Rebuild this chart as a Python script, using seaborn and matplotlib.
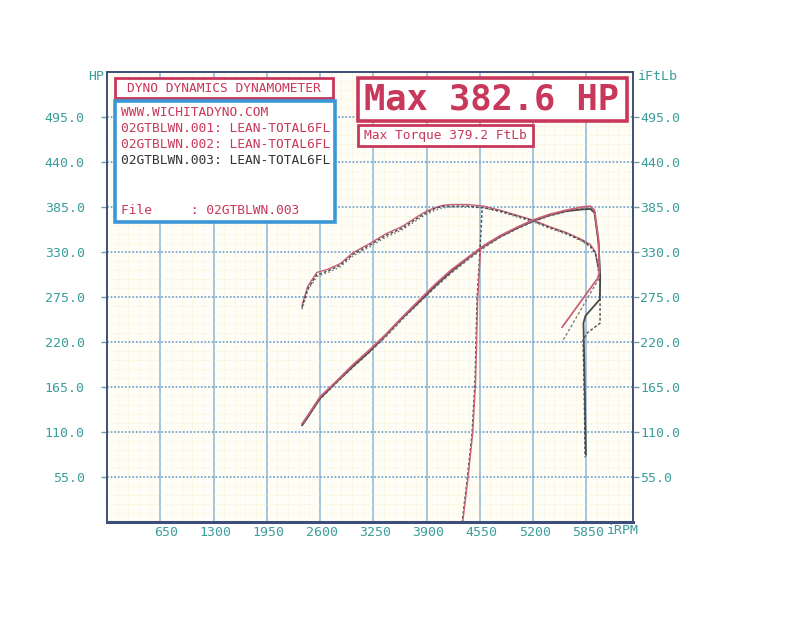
import matplotlib
matplotlib.use("Agg")
import matplotlib.pyplot as plt
from matplotlib.patches import Rectangle
from matplotlib.ticker import MultipleLocator
import matplotlib.transforms as mtransforms
import seaborn as sns

# ---------------- data ----------------
X_TICKS = [650, 1300, 1950, 2600, 3250, 3900, 4550, 5200, 5850]
X_TICK_LABELS = ["650", "1300", "1950", "2600", "3250", "3900", "4550", "5200", "5850"]
Y_TICKS = [55, 110, 165, 220, 275, 330, 385, 440, 495]
Y_TICK_LABELS = ["55.0", "110.0", "165.0", "220.0", "275.0", "330.0", "385.0", "440.0", "495.0"]

# Power (HP) traces, incl. run-down tails
PWR_RPM_001 = [2380, 2450, 2600, 2800, 3000, 3200, 3400, 3600, 3800, 4000, 4200, 4400, 4600,
               4800, 5000, 5200, 5400, 5600, 5800, 5900, 5950, 6000, 6010, 5990, 5554]
PWR_001 = [120, 130, 153, 172, 192, 210, 229, 250, 270, 290, 308, 323, 338,
           350, 360, 369, 376, 381, 385, 386, 381, 345, 305, 298, 238]
PWR_RPM_002 = [2380, 2450, 2600, 2800, 3000, 3200, 3400, 3600, 3800, 4000, 4200, 4400, 4600,
               4800, 5000, 5200, 5400, 5600, 5800, 5900, 5950, 6000, 6015, 5995, 5554]
PWR_002 = [119, 129, 150, 170, 189, 207, 226, 247, 267, 286, 304, 320, 335,
           348, 358, 367, 374, 379, 383, 384, 380, 342, 302, 296, 220]
PWR_RPM_003 = [2380, 2450, 2600, 2800, 3000, 3200, 3400, 3600, 3800, 4000, 4200, 4400, 4600,
               4800, 5000, 5200, 5400, 5600, 5800, 5900, 5950, 6000, 6020, 6015, 5840, 5815,
               5825, 5835, 5845]
PWR_003 = [118, 128, 151, 171, 190, 208, 228, 249, 268, 288, 306, 322, 337,
           349, 359, 368, 375, 380, 382, 382.6, 378, 340, 300, 272, 252, 243,
           200, 140, 82]

# Torque (FtLb) traces
TRQ_RPM = [2380, 2450, 2560, 2700, 2850, 3000, 3200, 3400, 3600, 3800, 3900, 4000, 4100,
           4200, 4400, 4600, 4800, 5000, 5200, 5400, 5600, 5800, 5900, 5960, 6010]
TRQ_001 = [265, 288, 305, 309, 316, 329, 340, 352, 361, 374, 380, 384, 387,
           388, 388, 386, 381, 375, 369, 361, 354, 345, 339, 330, 305]
TRQ_002 = [260, 283, 300, 305, 312, 325, 336, 348, 357, 370, 376, 381, 384,
           385, 385, 384, 379, 373, 367, 359, 352, 343, 336, 328, 300]
TRQ_003 = [262, 285, 302, 307, 314, 327, 338, 350, 359, 372, 378, 383, 386,
           386, 386, 384, 380, 374, 368, 360, 353, 344, 337, 329, 303]
TRQ_TAIL_RPM_003 = [6010, 6018, 6018, 5860, 5810, 5820, 5830, 5835]
TRQ_TAIL_003 = [303, 290, 243, 231, 222, 180, 120, 79]

# Start-of-run drop lines
DROP_TRQ_RPM = [4578, 4553, 4516, 4492, 4456, 4395, 4334]
DROP_TRQ = [381, 334, 271, 174, 109, 51, 0]
DROP_PWR_RPM = [4560, 4524, 4500, 4464, 4403, 4342]
DROP_PWR = [334, 271, 174, 109, 51, 0]

RUN_LABELS = ["02GTBLWN.001: LEAN-TOTAL6FL", "02GTBLWN.002: LEAN-TOTAL6FL",
              "02GTBLWN.003: LEAN-TOTAL6FL"]

# ---------------- style ----------------
sns.set_theme(style="white")
plt.rcParams["font.family"] = ["DejaVu Sans Mono", "DejaVu Sans"]

W, H = 799, 625
CRIMSON = "#c8385a"
TEAL = "#3a9e9a"
PINK = "#c8607a"
DARK = "#4a4a4a"
GRAY = "#808080"
BLUE = "#3a98d8"
FRAME = "#3d4f78"

fig = plt.figure(figsize=(W / 100, H / 100), dpi=100)
fig.patch.set_facecolor("white")
ax = fig.add_axes([107 / W, 1 - 522 / H, (633 - 107) / W, 450 / H])
ax.set_facecolor("#fffef6")

# curves
sns.lineplot(x=TRQ_RPM, y=TRQ_001, ax=ax, sort=False, estimator=None, color=PINK, lw=1.0)
sns.lineplot(x=TRQ_RPM, y=TRQ_002, ax=ax, sort=False, estimator=None, color=GRAY, lw=1.1, linestyle=":")
sns.lineplot(x=TRQ_RPM, y=TRQ_003, ax=ax, sort=False, estimator=None, color=DARK, lw=1.0, linestyle=(0, (2, 1.5)))
sns.lineplot(x=TRQ_TAIL_RPM_003, y=TRQ_TAIL_003, ax=ax, sort=False, estimator=None, color=DARK, lw=1.0, linestyle=(0, (2, 1.5)))
sns.lineplot(x=PWR_RPM_002, y=PWR_002, ax=ax, sort=False, estimator=None, color=GRAY, lw=1.0, linestyle=(0, (2, 1.5)))
sns.lineplot(x=PWR_RPM_003, y=PWR_003, ax=ax, sort=False, estimator=None, color=DARK, lw=1.3)
sns.lineplot(x=PWR_RPM_001, y=PWR_001, ax=ax, sort=False, estimator=None, color=PINK, lw=1.3)
sns.lineplot(x=DROP_TRQ_RPM, y=DROP_TRQ, ax=ax, sort=False, estimator=None, color=DARK, lw=1.0, linestyle=(0, (2, 1.5)))
sns.lineplot(x=DROP_PWR_RPM, y=DROP_PWR, ax=ax, sort=False, estimator=None, color=PINK, lw=1.0)

ax.set_xlim(0, 6420)
ax.set_ylim(0, 550)
ax.set_xlabel("")
ax.set_ylabel("")

# grid
ax.xaxis.set_minor_locator(MultipleLocator(130))
ax.yaxis.set_minor_locator(MultipleLocator(11))
ax.grid(which="minor", color="#f4ecc6", lw=0.6, linestyle=":")
ax.grid(which="major", axis="x", color="#8db6d4", lw=1.1, linestyle="-")
ax.grid(which="major", axis="y", color="#7aa8d0", lw=1.3, linestyle=(0, (1, 1)))
ax.set_axisbelow(True)

ax.set_xticks(X_TICKS)
ax.set_xticklabels(X_TICK_LABELS)
ax.set_yticks(Y_TICKS)
ax.set_yticklabels(Y_TICK_LABELS)
ax.tick_params(axis="x", which="both", length=0, pad=3, labelsize=9.5, labelcolor=TEAL)
ax.tick_params(axis="y", which="major", length=4, width=1, color="#7a9a9a", direction="out",
               pad=12, labelsize=9.5, labelcolor=TEAL, left=True)
ax.tick_params(axis="y", which="minor", length=0)
offset = mtransforms.ScaledTranslation(18 / 100, 0, fig.dpi_scale_trans)
for lab in ax.get_xticklabels():
    lab.set_horizontalalignment("right")
    lab.set_transform(lab.get_transform() + offset)

for side, sp in ax.spines.items():
    sp.set_color(FRAME)
    sp.set_linewidth(1.4)
ax.spines["bottom"].set_linewidth(2.2)

ax2 = ax.twinx()
ax2.set_ylim(0, 550)
ax2.set_yticks(Y_TICKS)
ax2.set_yticklabels(Y_TICK_LABELS)
ax2.tick_params(axis="y", length=4, width=1, color="#7a9a9a", direction="out", pad=1,
                labelsize=9.5, labelcolor=TEAL, right=True)
for sp in ax2.spines.values():
    sp.set_visible(False)


def px(x, y):
    return (x / W, 1 - y / H)


def rect(x0, y0, x1, y1, ec, lw):
    fig.add_artist(Rectangle(px(x0, y1), (x1 - x0) / W, (y1 - y0) / H,
                             transform=fig.transFigure, fc="white", ec=ec, lw=lw, zorder=5))


# axis unit labels
fig.text(*px(104, 77), "HP", ha="right", va="center", color=TEAL, fontsize=9.5)
fig.text(*px(638, 77), "iFtLb", ha="left", va="center", color=TEAL, fontsize=9.5)
fig.text(*px(607, 531), "iRPM", ha="left", va="center", color=TEAL, fontsize=9.5)

# header / info boxes
rect(115, 78, 333, 98, CRIMSON, 2.0)
fig.text(*px(224, 88.5), "DYNO DYNAMICS DYNAMOMETER", ha="center", va="center",
         color=CRIMSON, fontsize=9.3, zorder=6)
rect(115, 101, 335, 222, BLUE, 2.6)
fig.text(*px(121, 112), "WWW.WICHITADYNO.COM", ha="left", va="center", color=CRIMSON, fontsize=9.3, zorder=6)
fig.text(*px(121, 128), RUN_LABELS[0], ha="left", va="center", color=CRIMSON, fontsize=9.3, zorder=6)
fig.text(*px(121, 145), RUN_LABELS[1], ha="left", va="center", color=CRIMSON, fontsize=9.3, zorder=6)
fig.text(*px(121, 160), RUN_LABELS[2], ha="left", va="center", color="#333333", fontsize=9.3, zorder=6)
fig.text(*px(121, 210), "File     : 02GTBLWN.003", ha="left", va="center", color=CRIMSON, fontsize=9.3, zorder=6)

rect(358, 78, 627, 121, CRIMSON, 2.6)
fig.text(*px(492, 100), "Max 382.6 HP", ha="center", va="center", color=CRIMSON,
         fontsize=25.5, fontweight="bold", zorder=6)
rect(358, 125, 533, 146, CRIMSON, 2.0)
fig.text(*px(445.5, 135.5), "Max Torque 379.2 FtLb", ha="center", va="center", color=CRIMSON,
         fontsize=9.3, zorder=6)

fig.savefig("out.png", dpi=100)
